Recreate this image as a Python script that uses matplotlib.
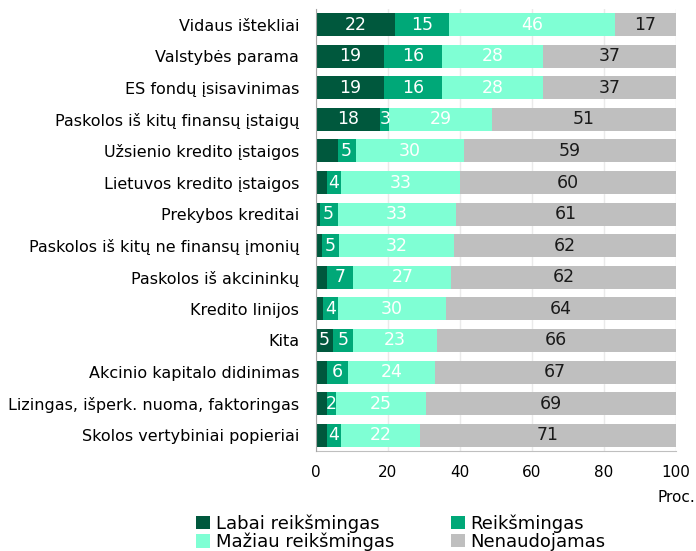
import matplotlib
matplotlib.use("Agg")
import matplotlib.pyplot as plt
import numpy as np

categories = [
    "Vidaus ištekliai",
    "Valstybės parama",
    "ES fondų įsisavinimas",
    "Paskolos iš kitų finansų įstaigų",
    "Užsienio kredito įstaigos",
    "Lietuvos kredito įstaigos",
    "Prekybos kreditai",
    "Paskolos iš kitų ne finansų įmonių",
    "Paskolos iš akcininkų",
    "Kredito linijos",
    "Kita",
    "Akcinio kapitalo didinimas",
    "Lizingas, išperk. nuoma, faktoringas",
    "Skolos vertybiniai popieriai",
]
labai = [22, 19, 19, 17.8, 6, 3, 1, 1.6, 3.2, 2, 4.8, 3, 3.1, 3]
reiksmingas = [15, 16, 16, 2.6, 5, 4, 5, 4.9, 7.2, 4, 5.4, 6, 2.4, 4]
maziau = [46, 28, 28, 28.6, 30, 33, 33, 31.8, 27.2, 30, 23.4, 24, 25.2, 22]
nenaudojamas = [17, 37, 37, 51.0, 59, 60, 61, 61.7, 62.4, 64, 66.4, 67, 69.3, 71]
show_labai_label = [True, True, True, True, False, False, False, False, False, False, True, False, False, False]

series_names = ["Labai reikšmingas", "Reikšmingas", "Mažiau reikšmingas", "Nenaudojamas"]
colors = ["#00583d", "#00a878", "#7fffd4", "#bfbfbf"]
text_colors = ["white", "white", "white", "#1a1a1a"]
x_ticks = [0, 20, 40, 60, 80, 100]

fig = plt.figure(figsize=(6.96, 5.51), dpi=100)
ax = fig.add_axes([0.454, 0.1815, 0.517, 0.8025])

y = np.arange(len(categories))
data = [labai, reiksmingas, maziau, nenaudojamas]
left = np.zeros(len(categories))
handles = []
for k, (vals, col) in enumerate(zip(data, colors)):
    vals = np.array(vals, dtype=float)
    bars = ax.barh(y, vals, left=left, height=0.73, color=col, zorder=3,
                   label=series_names[k])
    handles.append(bars)
    for i, v in enumerate(vals):
        if k == 0 and not show_labai_label[i]:
            continue
        ax.text(left[i] + v / 2, y[i], f"{v:.0f}", ha="center", va="center",
                color=text_colors[k], fontsize=12.5, zorder=4)
    left += vals

ax.set_xlim(0, 100)
ax.set_ylim(len(categories) - 0.5, -0.5)
ax.set_yticks(y)
ax.set_yticklabels(categories, fontsize=11.5)
ax.set_xticks(x_ticks)
ax.set_xticklabels([str(t) for t in x_ticks], fontsize=11)
ax.tick_params(axis="both", length=0)
ax.tick_params(axis="x", pad=10)
ax.tick_params(axis="y", pad=12)
ax.grid(axis="x", color="#eaeaea", linewidth=1, zorder=0)
for s in ["top", "right"]:
    ax.spines[s].set_visible(False)
ax.spines["left"].set_color("#a6a6a6")
ax.spines["bottom"].set_color("#bfbfbf")
ax.spines["left"].set_zorder(5)

fig.text(0.999, 0.098, "Proc.", ha="right", va="center", fontsize=11)

order = [0, 2, 1, 3]
leg = fig.legend([handles[i] for i in order], [series_names[i] for i in order],
                 loc="lower left", bbox_to_anchor=(0.2716, -0.014), ncol=2,
                 frameon=False, fontsize=13, handlelength=0.78, handleheight=0.78,
                 handletextpad=0.3, columnspacing=3.15, labelspacing=0.0,
                 borderaxespad=0)

fig.savefig("out.png", dpi=100)
